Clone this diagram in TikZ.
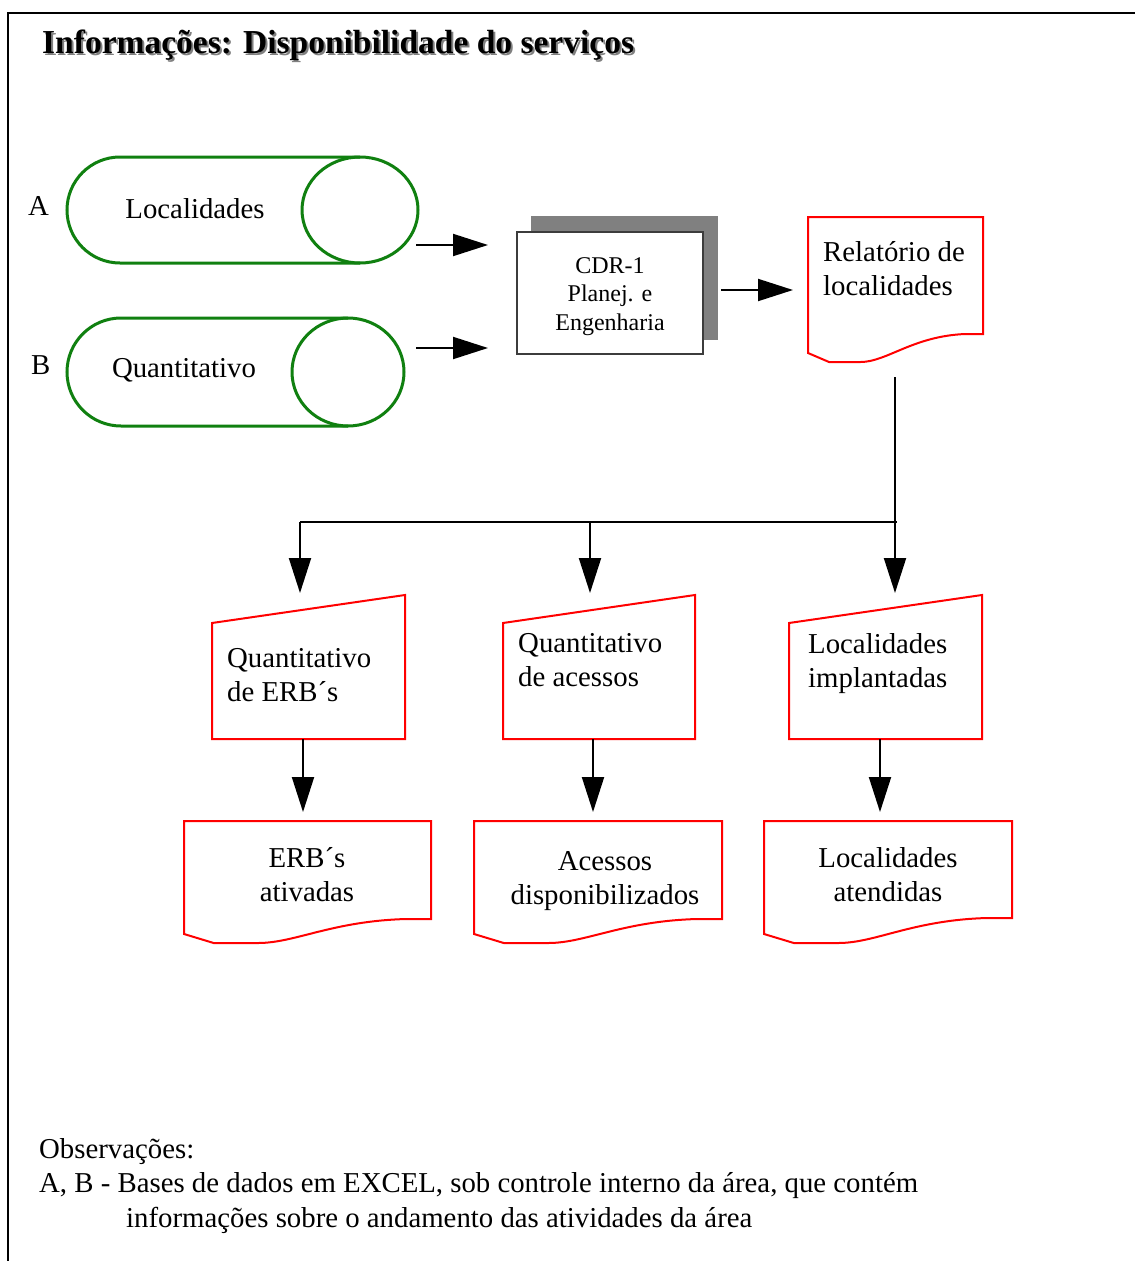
\documentclass[tikz,border=0pt]{standalone}
\usepackage{fontspec}
\setmainfont{Liberation Serif}
\usetikzlibrary{arrows.meta}
\definecolor{cylgreen}{RGB}{16,128,16}
\definecolor{shadowgray}{RGB}{128,128,128}
\definecolor{boxgray}{RGB}{60,60,60}
\newcommand\docshape[5]{% x1, x2, ytop, yright, yleft
  \draw[redline] (#1,#3) -- (#2,#3) -- (#2,#4) -- ({#2-0.1*(#2-#1)},#4)
    .. controls ({#1+0.6*(#2-#1)},{#4+2}) and ({#1+0.45*(#2-#1)},{#5+9}) .. ({#1+0.3*(#2-#1)},{#5+9})
    -- ({#1+0.12*(#2-#1)},{#5+9}) -- (#1,#5) -- cycle;}
\begin{document}
\begin{tikzpicture}[x=1pt,y=-1pt,
  arr/.style={line width=2pt,-{Triangle[length=35pt,width=22pt]}},
  plainline/.style={line width=2pt},
  cyl/.style={draw=cylgreen,line width=3pt},
  redline/.style={draw=red,line width=2pt,line join=miter},
  body/.style={font=\fontsize{28.8}{34.5}\selectfont,inner sep=0pt,anchor=base west},
  bodyc/.style={font=\fontsize{28.8}{34.5}\selectfont,inner sep=0pt,anchor=base},
  small/.style={font=\fontsize{24}{28.5}\selectfont,inner sep=0pt,anchor=base},
  titlef/.style={font=\fontsize{33.5}{40}\selectfont\bfseries,inner sep=0pt,anchor=base west}]
\useasboundingbox (0,0) rectangle (1135,1261);
% frame
\draw[line width=2.5pt] (8,1261) -- (8,13) -- (1135,13);
% title with shadow
\node[titlef,text=shadowgray] at (44,55) {Informações: Disponibilidade do serviços};
\node[titlef] (title) at (42,53) {Informações: Disponibilidade do serviços};
% cylinder A
\draw[cyl] (360,157) -- (120,157) arc[start angle=270,end angle=90,x radius=53,y radius=53] -- (360,263);
\draw[cyl] (360,210) ellipse[x radius=58,y radius=53];
\node[bodyc] (cylA) at (195,218) {Localidades};
\node[body] (labA) at (28,215) {A};
% cylinder B
\draw[cyl] (348,318) -- (121,318) arc[start angle=270,end angle=90,x radius=54,y radius=54] -- (348,426);
\draw[cyl] (348,372) ellipse[x radius=56,y radius=54];
\node[bodyc] (cylB) at (184,377) {Quantitativo};
\node[body] (labB) at (31,374) {B};
% CDR box
\fill[shadowgray] (531,216) rectangle (718,340);
\draw[fill=white,draw=boxgray,line width=2pt] (517,232) rectangle (703,354);
\node[small] (cdr) at (610,273) {\begin{tabular}[t]{@{}c@{}}CDR-1\\Planej. e\\Engenharia\end{tabular}};
% arrows into CDR
\coordinate (a1s) at (416,245); \coordinate (a1e) at (488,245);
\coordinate (a2s) at (416,348); \coordinate (a2e) at (488,348);
\draw[arr] (a1s) -- (a1e);
\draw[arr] (a2s) -- (a2e);
% Relatorio document
\docshape{808}{983}{217}{334}{353}
\node[body] (rel) at (823,261) {\begin{tabular}[t]{@{}l@{}}Relatório de\\localidades\end{tabular}};
\coordinate (a3s) at (721,290); \coordinate (a3e) at (793,290);
\draw[arr] (a3s) -- (a3e);
% distribution
\coordinate (relout) at (895,377);
\coordinate (jR) at (897,522);
\coordinate (jL) at (300,522);
\coordinate (jM) at (590,522);
\coordinate (in1) at (300,593);
\coordinate (in2) at (590,593);
\coordinate (in3) at (895,593);
\draw[plainline] (jL) -- (jR);
\draw[arr] (relout) -- (in3);
\draw[arr] (jL) -- (in1);
\draw[arr] (jM) -- (in2);
% manual inputs
\draw[redline] (212,623) -- (405,595) -- (405,739) -- (212,739) -- cycle;
\draw[redline] (503,623) -- (695,595) -- (695,739) -- (503,739) -- cycle;
\draw[redline] (789,623) -- (982,595) -- (982,739) -- (789,739) -- cycle;
\node[body] (m1) at (227,667) {\begin{tabular}[t]{@{}l@{}}Quantitativo\\de ERB´s\end{tabular}};
\node[body] (m2) at (518,652) {\begin{tabular}[t]{@{}l@{}}Quantitativo\\de acessos\end{tabular}};
\node[body] (m3) at (808,653) {\begin{tabular}[t]{@{}l@{}}Localidades\\implantadas\end{tabular}};
% arrows down
\coordinate (d1s) at (303,739); \coordinate (d1e) at (303,812);
\coordinate (d2s) at (593,739); \coordinate (d2e) at (593,812);
\coordinate (d3s) at (880,739); \coordinate (d3e) at (880,812);
\draw[arr] (d1s) -- (d1e);
\draw[arr] (d2s) -- (d2e);
\draw[arr] (d3s) -- (d3e);
% output documents
\docshape{184}{431}{821}{919}{934}
\docshape{474}{722}{821}{919}{934}
\docshape{764}{1012}{821}{918}{934}
\node[bodyc] (o1) at (307,867) {\begin{tabular}[t]{@{}c@{}}ERB´s\\ativadas\end{tabular}};
\node[bodyc] (o2) at (605,870) {\begin{tabular}[t]{@{}c@{}}Acessos\\disponibilizados\end{tabular}};
\node[bodyc] (o3) at (888,867) {\begin{tabular}[t]{@{}c@{}}Localidades\\atendidas\end{tabular}};
% observations
\node[body] (obs) at (39,1158) {\begin{tabular}[t]{@{}l@{}}Observações:\\A, B - Bases de dados em EXCEL, sob controle interno da área, que contém\\\hspace*{87pt}informações sobre o andamento das atividades da área\end{tabular}};
\end{tikzpicture}
\end{document}
